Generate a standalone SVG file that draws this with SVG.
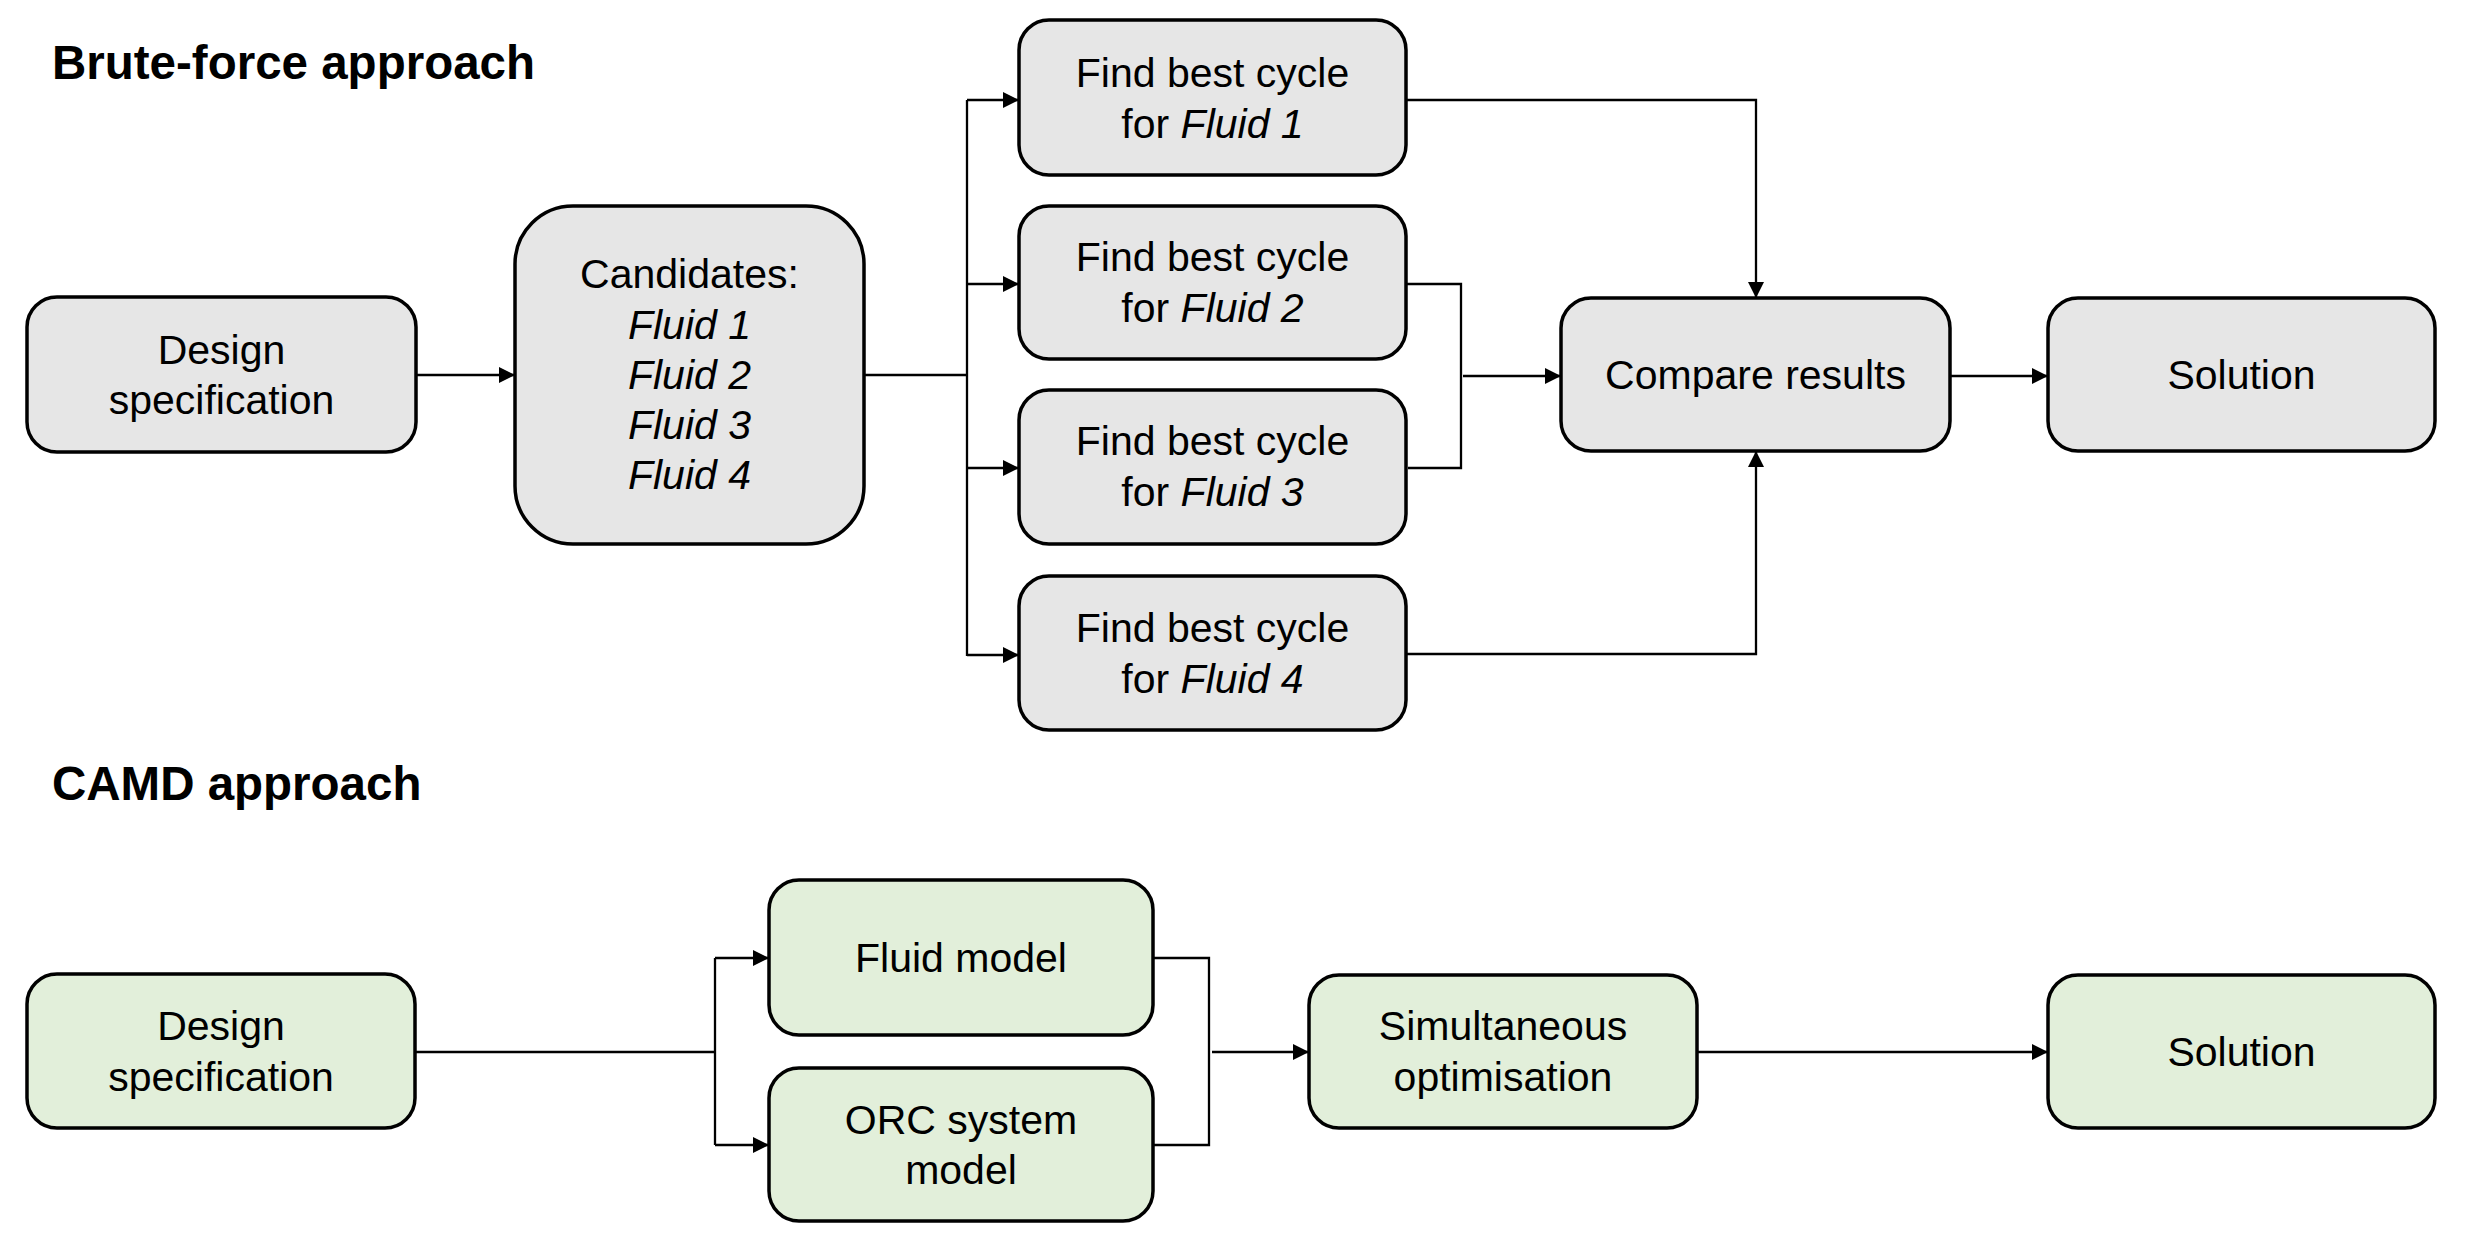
<svg xmlns="http://www.w3.org/2000/svg" width="2466" height="1242" viewBox="0 0 2466 1242">
<style>
.t{font-family:"Liberation Sans",Arial,sans-serif;font-size:41px;fill:#000;text-anchor:middle}
.h{font-family:"Liberation Sans",Arial,sans-serif;font-size:47.5px;font-weight:bold;fill:#000}
.i{font-style:italic}
.g{fill:#E6E6E6;stroke:#000;stroke-width:3.5}
.gr{fill:#E2EFDA;stroke:#000;stroke-width:3.5}
.c{fill:none;stroke:#000;stroke-width:2.3}
</style>
<defs>
<marker id="a" markerUnits="userSpaceOnUse" markerWidth="16" markerHeight="16" refX="16" refY="8" orient="auto">
<path d="M0,0 L16,8 L0,16 z" fill="#000"/>
</marker>
</defs>
<rect width="2466" height="1242" fill="#fff"/>
<text class="h" x="52" y="79">Brute-force approach</text>
<text class="h" x="52" y="800">CAMD approach</text>
<g id="connectors">
<path class="c" d="M416,375 H515" marker-end="url(#a)"/>
<path class="c" d="M864,375 H967"/>
<path class="c" d="M967,100 V656"/>
<path class="c" d="M967,100 H1019" marker-end="url(#a)"/>
<path class="c" d="M967,284 H1019" marker-end="url(#a)"/>
<path class="c" d="M967,468 H1019" marker-end="url(#a)"/>
<path class="c" d="M967,655 H1019" marker-end="url(#a)"/>
<path class="c" d="M1406,100 H1756 V298" marker-end="url(#a)"/>
<path class="c" d="M1406,284 H1461 V468 H1408"/>
<path class="c" d="M1463,376 H1561" marker-end="url(#a)"/>
<path class="c" d="M1406,654 H1756 V451" marker-end="url(#a)"/>
<path class="c" d="M1950,376 H2048" marker-end="url(#a)"/>
<path class="c" d="M415,1052 H715"/>
<path class="c" d="M715,958 V1145"/>
<path class="c" d="M715,958 H769" marker-end="url(#a)"/>
<path class="c" d="M715,1145 H769" marker-end="url(#a)"/>
<path class="c" d="M1153,958 H1209 V1145 H1153"/>
<path class="c" d="M1212,1052 H1309" marker-end="url(#a)"/>
<path class="c" d="M1697,1052 H2048" marker-end="url(#a)"/>
</g>
<g id="bf-design">
<rect class="g" x="27" y="297" width="389" height="155" rx="30"/>
<text class="t" x="221.5" y="364">Design</text>
<text class="t" x="221.5" y="414">specification</text>
</g>
<g id="bf-candidates">
<rect class="g" x="515" y="206" width="349" height="338" rx="58"/>
<text class="t" x="689.5" y="288">Candidates:</text>
<text class="t i" x="689.5" y="339">Fluid 1</text>
<text class="t i" x="689.5" y="389">Fluid 2</text>
<text class="t i" x="689.5" y="439">Fluid 3</text>
<text class="t i" x="689.5" y="489">Fluid 4</text>
</g>
<g id="bf-find1">
<rect class="g" x="1019" y="20" width="387" height="155" rx="30"/>
<text class="t" x="1212.5" y="87">Find best cycle</text>
<text class="t" x="1212.5" y="138">for <tspan class="i">Fluid 1</tspan></text>
</g>
<g id="bf-find2">
<rect class="g" x="1019" y="206" width="387" height="153" rx="30"/>
<text class="t" x="1212.5" y="271">Find best cycle</text>
<text class="t" x="1212.5" y="322">for <tspan class="i">Fluid 2</tspan></text>
</g>
<g id="bf-find3">
<rect class="g" x="1019" y="390" width="387" height="154" rx="30"/>
<text class="t" x="1212.5" y="455">Find best cycle</text>
<text class="t" x="1212.5" y="506">for <tspan class="i">Fluid 3</tspan></text>
</g>
<g id="bf-find4">
<rect class="g" x="1019" y="576" width="387" height="154" rx="30"/>
<text class="t" x="1212.5" y="642">Find best cycle</text>
<text class="t" x="1212.5" y="693">for <tspan class="i">Fluid 4</tspan></text>
</g>
<g id="bf-compare">
<rect class="g" x="1561" y="298" width="389" height="153" rx="30"/>
<text class="t" x="1755.5" y="389">Compare results</text>
</g>
<g id="bf-solution">
<rect class="g" x="2048" y="298" width="387" height="153" rx="30"/>
<text class="t" x="2241.5" y="389">Solution</text>
</g>
<g id="camd-design">
<rect class="gr" x="27" y="974" width="388" height="154" rx="30"/>
<text class="t" x="221" y="1040">Design</text>
<text class="t" x="221" y="1091">specification</text>
</g>
<g id="camd-fluid">
<rect class="gr" x="769" y="880" width="384" height="155" rx="30"/>
<text class="t" x="961" y="972">Fluid model</text>
</g>
<g id="camd-orc">
<rect class="gr" x="769" y="1068" width="384" height="153" rx="30"/>
<text class="t" x="961" y="1134">ORC system</text>
<text class="t" x="961" y="1184">model</text>
</g>
<g id="camd-opt">
<rect class="gr" x="1309" y="975" width="388" height="153" rx="30"/>
<text class="t" x="1503" y="1040">Simultaneous</text>
<text class="t" x="1503" y="1091">optimisation</text>
</g>
<g id="camd-solution">
<rect class="gr" x="2048" y="975" width="387" height="153" rx="30"/>
<text class="t" x="2241.5" y="1066">Solution</text>
</g>
</svg>
